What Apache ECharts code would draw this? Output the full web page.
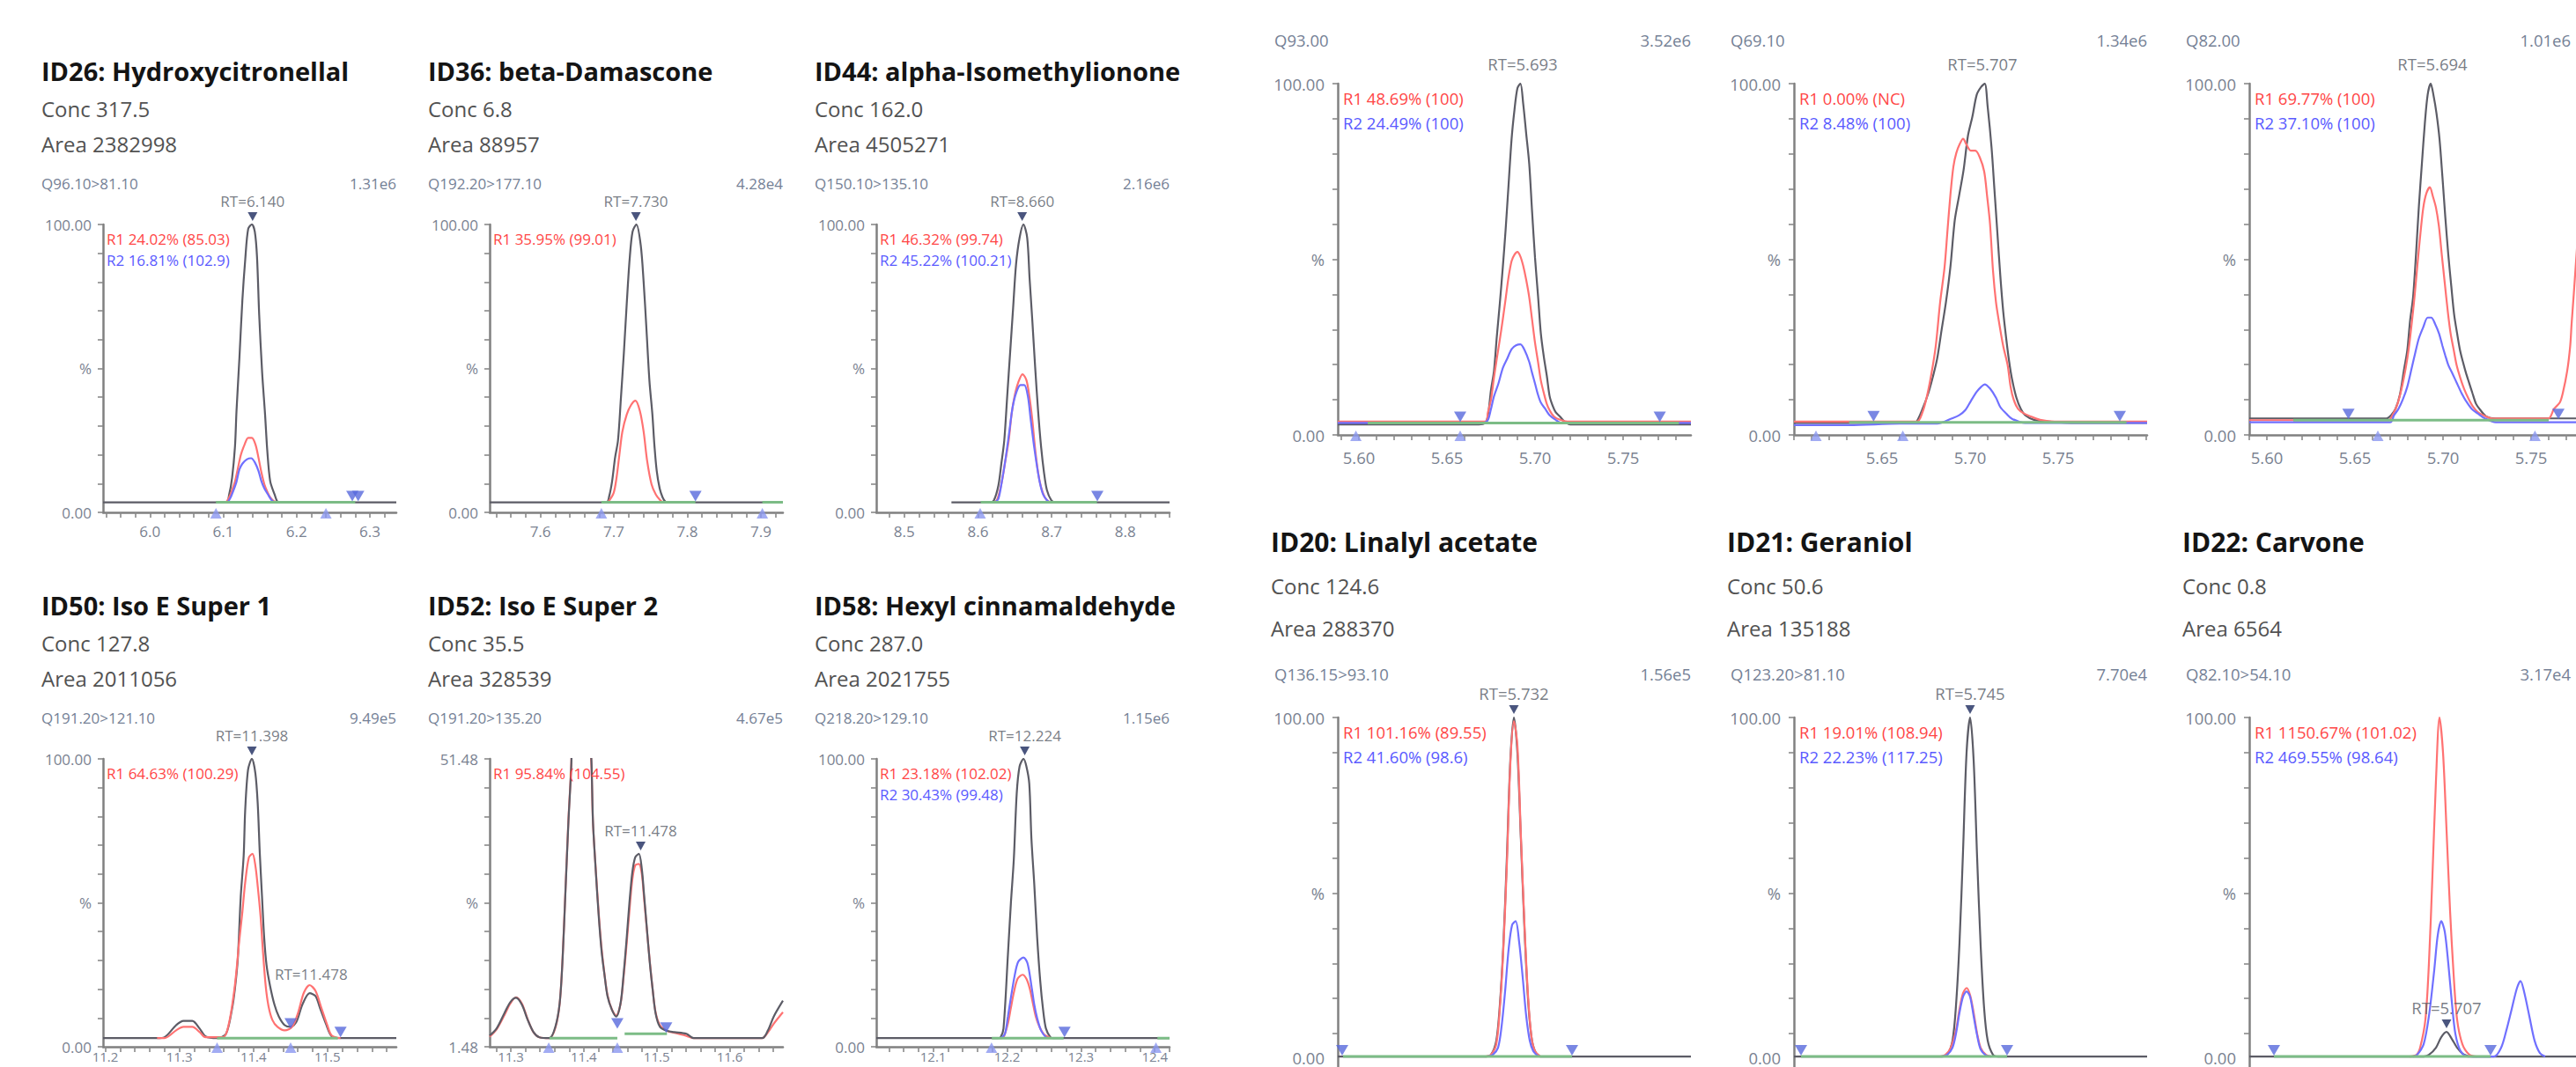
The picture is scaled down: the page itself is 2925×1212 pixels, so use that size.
<!DOCTYPE html>
<html><head><meta charset="utf-8">
<script src="https://cdn.jsdelivr.net/npm/echarts@6/dist/echarts.min.js"></script>
<style>html,body{margin:0;padding:0;background:#fff;overflow:hidden}#c{width:2925px;height:1212px}</style>
</head><body><div id="c"></div><script>
// ---------------- DATA ----------------
const panelTitles = ['ID26: Hydroxycitronellal','ID36: beta-Damascone','ID44: alpha-Isomethylionone','ID50: Iso E Super 1','ID52: Iso E Super 2','ID58: Hexyl cinnamaldehyde','','','','ID20: Linalyl acetate','ID21: Geraniol','ID22: Carvone'];
const concValues = ['317.5','6.8','162.0','127.8','35.5','287.0','','','','124.6','50.6','0.8'];
const areaValues = ['2382998','88957','4505271','2011056','328539','2021755','','','','288370','135188','6564'];
const channels = ['Q96.10>81.10','Q192.20>177.10','Q150.10>135.10','Q191.20>121.10','Q191.20>135.20','Q218.20>129.10','Q93.00','Q69.10','Q82.00','Q136.15>93.10','Q123.20>81.10','Q82.10>54.10'];
const intensities = ['1.31e6','4.28e4','2.16e6','9.49e5','4.67e5','1.15e6','3.52e6','1.34e6','1.01e6','1.56e5','7.70e4','3.17e4'];
const r1Text = ['R1 24.02% (85.03)','R1 35.95% (99.01)','R1 46.32% (99.74)','R1 64.63% (100.29)','R1 95.84% (104.55)','R1 23.18% (102.02)','R1 48.69% (100)','R1 0.00% (NC)','R1 69.77% (100)','R1 101.16% (89.55)','R1 19.01% (108.94)','R1 1150.67% (101.02)'];
const r2Text = ['R2 16.81% (102.9)','','R2 45.22% (100.21)','','','R2 30.43% (99.48)','R2 24.49% (100)','R2 8.48% (100)','R2 37.10% (100)','R2 41.60% (98.6)','R2 22.23% (117.25)','R2 469.55% (98.64)'];
const yTopLabels = ['100.00','100.00','100.00','100.00','51.48','100.00','100.00','100.00','100.00','100.00','100.00','100.00'];
const yBottomLabels = ['0.00','0.00','0.00','0.00','1.48','0.00','0.00','0.00','0.00','0.00','0.00','0.00'];
const xMin = [5.936,7.531,8.462,11.197,11.271,12.023,5.588,5.600,5.590,5.632,5.645,5.595];
const xMax = [6.336,7.930,8.860,11.593,11.673,12.420,5.7885,5.8005,5.7905,5.8325,5.8455,5.7955];
const xLabels = [[6.0,6.1,6.2,6.3],[7.6,7.7,7.8,7.9],[8.5,8.6,8.7,8.8],[11.2,11.3,11.4,11.5],[11.3,11.4,11.5,11.6],[12.1,12.2,12.3,12.4],[5.60,5.65,5.70,5.75],[5.65,5.70,5.75],[5.60,5.65,5.70,5.75],[5.65,5.70,5.75,5.80],[5.65,5.70,5.75,5.80],[5.60,5.65,5.70,5.75]];
const xLabelDecimals = [1,1,1,1,1,1,2,2,2,2,2,2];
const xMinorStep = [0.02,0.02,0.02,0.02,0.02,0.02,0.01,0.01,0.01,0.01,0.01,0.01];

// ID26
const id26Black = [[5.936,3.5],[6.104,3.5],[6.108,6.2],[6.112,12],[6.116,23],[6.118,35],[6.122,53.6],[6.126,73.5],[6.130,88],[6.134,98.5],[6.139,100],[6.143,97.5],[6.146,88.8],[6.149,68.5],[6.153,48.6],[6.157,34],[6.160,21.5],[6.164,10.8],[6.170,6.2],[6.174,3.7],[6.178,3.5],[6.336,3.5]];
const id26Red = [[6.104,3.5],[6.108,5.2],[6.112,7.7],[6.116,10.8],[6.120,15.4],[6.124,20],[6.129,23.5],[6.134,25.9],[6.139,25.9],[6.144,23.5],[6.148,19],[6.152,13.9],[6.156,9.8],[6.160,7.2],[6.164,5.2],[6.169,3.9],[6.174,3.5]];
const id26Blue = [[6.106,3.5],[6.110,5.2],[6.114,7.7],[6.118,10.6],[6.122,14.9],[6.126,16.9],[6.132,18.4],[6.138,18.8],[6.143,17.4],[6.148,14.4],[6.152,10.8],[6.156,8.3],[6.161,6.2],[6.166,4.2],[6.170,3.5]];
// ID36
const id36Black = [[7.531,3.5],[7.690,3.5],[7.6937,5.7],[7.6976,10.8],[7.7016,19],[7.7056,25],[7.7095,39.4],[7.7135,55],[7.7175,72.5],[7.7214,87.8],[7.7254,97.5],[7.7306,100],[7.7365,92.9],[7.7405,80],[7.7444,63.3],[7.7484,45.6],[7.7524,34],[7.7551,23.5],[7.7583,14.4],[7.7623,8.3],[7.7663,5.2],[7.7702,3.7],[7.775,3.5],[7.930,3.5]];
const id36Red = [[7.692,3.5],[7.6996,6.7],[7.7036,12],[7.7075,20],[7.7115,28],[7.7175,34],[7.7234,37.3],[7.7294,38.8],[7.7353,35.3],[7.7405,28],[7.7452,18],[7.7512,9.8],[7.7571,6.2],[7.7631,4.2],[7.767,3.5]];
// ID44
const id44Black = [[8.564,3.5],[8.617,3.5],[8.6217,4.2],[8.6277,9.3],[8.6317,16.9],[8.6357,25],[8.6397,40.4],[8.6437,55.7],[8.6477,71],[8.6517,86.2],[8.6565,95.4],[8.6617,100],[8.6668,95.4],[8.6701,81.1],[8.6737,66.9],[8.6776,50.5],[8.6816,35.3],[8.6856,23],[8.6896,13.9],[8.6936,7.7],[8.6996,4.2],[8.705,3.5],[8.860,3.5]];
const id44Red = [[8.621,3.5],[8.6257,4.2],[8.6317,9.8],[8.6365,16.9],[8.6417,25],[8.6457,34.3],[8.6497,40.4],[8.6545,45],[8.6605,48],[8.6657,46],[8.6697,40.4],[8.6737,32.2],[8.6776,22],[8.6816,13.9],[8.6856,8.8],[8.6907,5.2],[8.6955,3.9],[8.699,3.5]];
const id44Blue = [[8.623,3.5],[8.6277,4.7],[8.6325,10.8],[8.6377,19],[8.6425,28],[8.6469,36.3],[8.6517,41.4],[8.6577,44.2],[8.6629,44.2],[8.6677,40.4],[8.6716,32.2],[8.6756,24],[8.6796,16.9],[8.6836,10.8],[8.6884,6.2],[8.6936,4.2],[8.697,3.5]];
// ID50
const id50Black = [[11.197,3],[11.270,3],[11.280,3.3],[11.2957,7.5],[11.3056,9],[11.3175,9],[11.3275,6.3],[11.3353,3.6],[11.3512,3],[11.3631,4.5],[11.371,12.9],[11.375,20],[11.379,30.7],[11.3829,52],[11.3869,66.4],[11.3889,81.9],[11.3928,96.2],[11.398,100],[11.4027,95],[11.4059,84.3],[11.4086,67.6],[11.4118,51.5],[11.4146,37.9],[11.4178,28.3],[11.4225,21.2],[11.4285,14.6],[11.4344,10.5],[11.4423,7.5],[11.4503,6.9],[11.4582,8.7],[11.4661,14.6],[11.476,18.6],[11.4839,17.6],[11.4899,13.5],[11.4978,8.1],[11.5058,3.6],[11.5177,3],[11.593,3]];
const id50Red = [[11.270,3],[11.280,3],[11.2957,5.7],[11.3056,6.9],[11.3175,6.9],[11.3275,5.1],[11.3353,3.3],[11.3591,3.3],[11.367,8.1],[11.375,21.2],[11.3809,36.7],[11.3849,46.2],[11.3889,56.9],[11.394,65.8],[11.3988,67],[11.4027,62.9],[11.4059,55.7],[11.4098,45],[11.4126,34.3],[11.4166,21.2],[11.4205,14],[11.4257,9.3],[11.4325,6.9],[11.4423,5.7],[11.4523,6.9],[11.4602,11.7],[11.4682,18.8],[11.476,21.4],[11.4839,19.4],[11.4918,13.5],[11.4998,7.5],[11.5058,3.9],[11.5177,3]];
// ID52
const id52Black = [[11.271,3.9],[11.2804,6.3],[11.2913,11.7],[11.2993,15.5],[11.3072,17],[11.3152,14.6],[11.3232,9.3],[11.3311,5.1],[11.3391,3.3],[11.353,3],[11.361,6.9],[11.367,15.2],[11.371,30.7],[11.375,54.5],[11.379,78.3],[11.383,98.6],[11.388,150],[11.396,195],[11.404,140],[11.4106,98.6],[11.4126,78.3],[11.4166,60.5],[11.4206,45],[11.4245,33],[11.4285,24.8],[11.4325,17.6],[11.4385,12.9],[11.4445,10.5],[11.4505,15.2],[11.4545,24.8],[11.4585,36.7],[11.4625,49.8],[11.4665,60.5],[11.4705,65.8],[11.4756,67],[11.4796,61.7],[11.4825,53.3],[11.4864,41.4],[11.4904,29.5],[11.4944,20],[11.4984,11.7],[11.5044,6.9],[11.5144,5.5],[11.5243,5.1],[11.5407,4.5],[11.5507,3],[11.6445,3],[11.6525,5.7],[11.6604,10.5],[11.673,16]];
const id52Red = [[11.271,3.5],[11.2804,6],[11.2913,11],[11.2993,15],[11.3072,17.2],[11.3152,15],[11.3232,9.5],[11.3311,5],[11.3391,3.3],[11.353,3],[11.361,6.5],[11.367,15],[11.371,31],[11.375,55],[11.379,79],[11.383,99],[11.388,150],[11.396,190],[11.404,135],[11.4106,97],[11.4126,78],[11.4166,61],[11.4206,46],[11.4245,34],[11.4285,25],[11.4325,18],[11.4385,13],[11.4445,10.8],[11.4505,15],[11.4545,24],[11.4585,35],[11.4625,47],[11.4665,58],[11.4705,63],[11.4756,63.5],[11.4796,60],[11.4825,52],[11.4864,41],[11.4904,30],[11.4944,20],[11.4984,12],[11.5044,7.5],[11.5144,5.5],[11.5243,4.8],[11.5407,3.8],[11.5507,3],[11.6445,3],[11.6525,5],[11.6604,8],[11.673,12]];
// ID58
const id58Black = [[12.023,3],[12.188,3],[12.1913,3.3],[12.1952,6.3],[12.2012,32],[12.2052,49.8],[12.2092,65.2],[12.2131,87.9],[12.217,97.4],[12.2223,100],[12.2262,97.4],[12.2301,91.4],[12.233,72.4],[12.2369,56.3],[12.2408,37.9],[12.2449,23],[12.2488,12.9],[12.2527,6.3],[12.2587,3.3],[12.262,3],[12.420,3]];
const id58Red = [[12.190,3],[12.1952,3.3],[12.2012,8.1],[12.2052,13.5],[12.2092,18.8],[12.2143,23.6],[12.221,25],[12.2262,23.6],[12.231,20],[12.2349,15.2],[12.2389,10.5],[12.244,6.9],[12.25,4.3],[12.2567,3.3],[12.26,3]];
const id58Blue = [[12.192,3],[12.1972,4.5],[12.2012,10.5],[12.2052,17],[12.2104,24.8],[12.2151,29.5],[12.2223,31],[12.2278,28.9],[12.233,21.2],[12.2369,14.6],[12.2408,9.9],[12.246,5.7],[12.2527,3.3],[12.256,3]];
// Q93.00
const q93Black = [[5.588,3],[5.668,3],[5.6717,3.4],[5.6733,5.6],[5.675,12.8],[5.6767,18.2],[5.6783,28],[5.68,37.4],[5.6817,47.7],[5.6833,58.4],[5.685,71.4],[5.6867,84.3],[5.6883,92.4],[5.69,98.7],[5.6917,100],[5.6933,94.2],[5.695,85.7],[5.6967,77.2],[5.6983,63.8],[5.70,50.4],[5.7017,39.6],[5.7033,28.9],[5.705,22.2],[5.7067,16.8],[5.7083,11],[5.71,8.3],[5.7117,6.5],[5.7142,5.2],[5.7167,3.8],[5.72,3],[5.7885,3]];
const q93Red = [[5.588,3.8],[5.6717,3.8],[5.6733,6.5],[5.675,10.1],[5.6767,16.4],[5.6783,21.7],[5.68,27.1],[5.6817,32.9],[5.6833,38.7],[5.685,45],[5.6867,49.5],[5.6883,51.3],[5.69,52.1],[5.6917,50.8],[5.6933,48.1],[5.695,44.1],[5.6967,39.2],[5.6983,32.9],[5.70,26.2],[5.7017,20.8],[5.7033,15.5],[5.705,11.9],[5.7067,8.8],[5.7083,7],[5.7108,5.2],[5.7142,4.3],[5.7183,3.8],[5.7885,3.8]];
const q93Blue = [[5.588,3.4],[5.671,3.4],[5.6733,4.3],[5.675,7.4],[5.6767,11],[5.6792,14.6],[5.6817,19],[5.6842,21.7],[5.6867,24.4],[5.6892,25.5],[5.6917,25.8],[5.6942,24],[5.6967,20.8],[5.6983,17.7],[5.70,14.6],[5.7017,11.4],[5.7033,9.2],[5.7058,7.4],[5.7083,5.6],[5.7117,4.3],[5.715,3.4],[5.7885,3.4]];
// Q69.10
const q69Black = [[5.60,3.4],[5.668,3.4],[5.6697,3.8],[5.673,7.4],[5.6763,11.9],[5.6788,16.4],[5.6813,21.7],[5.6838,29.8],[5.6863,37.8],[5.6888,47.7],[5.6913,61.1],[5.6938,68.2],[5.6963,75.4],[5.6988,85.2],[5.7013,90.6],[5.7038,96.9],[5.7063,99.1],[5.7083,100],[5.71,93.3],[5.7122,81.7],[5.7138,70],[5.7155,57.5],[5.7172,45],[5.7188,35.2],[5.7205,27.5],[5.7222,20.8],[5.7238,15.9],[5.7263,10.6],[5.7288,7.4],[5.7313,5.6],[5.7363,4.3],[5.7447,3.8],[5.76,3.4],[5.8005,3.4]];
const q69Red = [[5.60,3.8],[5.6697,3.8],[5.673,6.5],[5.6755,11],[5.678,17.3],[5.6805,25.3],[5.683,37.8],[5.6855,47.7],[5.6872,58.4],[5.6888,68.2],[5.6905,76.3],[5.6922,80.3],[5.6943,83],[5.696,84.3],[5.698,82.6],[5.7005,80.9],[5.703,80.9],[5.7055,79],[5.708,75],[5.7097,67.8],[5.7113,60.2],[5.713,46.8],[5.7147,37.8],[5.7163,32.5],[5.7188,25.3],[5.7213,19.9],[5.723,13.7],[5.7247,10.1],[5.7272,7.4],[5.7305,6.1],[5.7347,5.2],[5.7397,4.3],[5.748,3.8],[5.8005,3.8]];
const q69Blue = [[5.60,2.8],[5.6313,2.8],[5.66,3.2],[5.6813,3.2],[5.6897,4.7],[5.6938,5.6],[5.6972,7],[5.7005,9.7],[5.7038,12.3],[5.7063,13.7],[5.7083,14.4],[5.7113,13.2],[5.7147,10.6],[5.7172,7.9],[5.7205,6.1],[5.7238,4.6],[5.7313,3.4],[5.8005,3.4]];
// Q82.00
const q82Black = [[5.59,4.7],[5.668,4.7],[5.6705,5.6],[5.673,7.4],[5.6755,11.4],[5.678,19],[5.6797,24],[5.6813,32.5],[5.683,39.2],[5.6847,51.7],[5.6863,65.1],[5.688,77.2],[5.6897,88.8],[5.6913,96.9],[5.693,100],[5.6947,96.4],[5.6963,91.5],[5.698,84.3],[5.6997,73.2],[5.7013,62],[5.703,51.3],[5.7047,42.3],[5.7063,34.3],[5.708,28.9],[5.7097,24],[5.7113,20.8],[5.713,17.7],[5.7147,15],[5.7167,11.9],[5.7188,8.8],[5.7213,7],[5.7247,5.2],[5.7297,4.7],[5.7905,4.7]];
const q82Red = [[5.59,4.2],[5.669,4.2],[5.6713,5.6],[5.6738,8.3],[5.6763,12.8],[5.6788,19],[5.6805,24.4],[5.6822,31.6],[5.6838,39.2],[5.6855,48.6],[5.6872,57.5],[5.6888,64.7],[5.6905,68.7],[5.6925,70.5],[5.6943,67.8],[5.696,64.7],[5.6977,59.3],[5.6993,51.3],[5.701,43.2],[5.7027,35.2],[5.7043,28.9],[5.706,24.4],[5.7077,19.9],[5.7097,16.4],[5.7122,12.8],[5.7147,10.1],[5.7172,7.9],[5.7197,6.5],[5.723,5.6],[5.728,4.7],[5.7597,4.7],[5.763,7.4],[5.7663,9.2],[5.768,11.9],[5.7705,18.2],[5.7722,25.3],[5.773,31.6],[5.7743,40.5],[5.7763,55],[5.7783,68],[5.7805,78]];
const q82Blue = [[5.59,3.6],[5.67,3.6],[5.6722,5.6],[5.6747,7.4],[5.6772,10.1],[5.6797,13.7],[5.6822,19],[5.6843,23.5],[5.6863,27.5],[5.6888,30.7],[5.6913,33.4],[5.6933,33.4],[5.6955,31.6],[5.6977,28.9],[5.6997,25.3],[5.7013,22.6],[5.703,19.9],[5.7055,17.3],[5.708,14.6],[5.7105,11.9],[5.713,9.7],[5.7163,7.4],[5.7197,6.1],[5.7238,4.7],[5.73,3.6],[5.7905,3.6]];
// ID20
const id20Black = [[5.632,3.5],[5.716,3.5],[5.719,4],[5.722,8],[5.724,18],[5.726,35],[5.728,60],[5.730,88],[5.732,100],[5.734,90],[5.736,65],[5.738,40],[5.740,20],[5.742,9],[5.744,5],[5.747,3.5],[5.8325,3.5]];
const id20Red = [[5.716,3.5],[5.719,4],[5.722,7],[5.724,17],[5.726,34],[5.728,58],[5.730,87],[5.732,99],[5.734,92],[5.736,66],[5.738,41],[5.740,21],[5.742,9],[5.744,5],[5.747,3.5]];
const id20Blue = [[5.717,3.5],[5.720,4],[5.723,6],[5.725,12],[5.727,22],[5.729,34],[5.731,41],[5.733,42],[5.735,36],[5.737,26],[5.739,15],[5.741,8],[5.743,5],[5.746,3.5]];
// ID21
const id21Black = [[5.645,3.5],[5.729,3.5],[5.732,4],[5.735,8],[5.737,18],[5.739,36],[5.741,62],[5.743,90],[5.745,100],[5.747,88],[5.749,60],[5.751,35],[5.753,17],[5.755,8],[5.758,4],[5.761,3.5],[5.8455,3.5]];
const id21Red = [[5.728,3.5],[5.731,4],[5.734,6],[5.737,11],[5.739,17],[5.741,21.5],[5.743,23],[5.745,21],[5.747,16],[5.749,10],[5.751,6],[5.754,4],[5.757,3.5]];
const id21Blue = [[5.729,3.5],[5.732,4],[5.735,6],[5.737,10],[5.739,16],[5.741,20.5],[5.743,22],[5.745,20.5],[5.747,15],[5.749,9.5],[5.751,5.5],[5.754,3.8],[5.757,3.5]];
// ID22
const id22Black = [[5.595,3.5],[5.694,3.5],[5.697,4],[5.701,6],[5.704,9],[5.707,10.5],[5.710,8.5],[5.713,6],[5.717,4],[5.722,3.5],[5.7955,3.5]];
const id22Red = [[5.686,3.5],[5.690,4],[5.692,6],[5.695,14],[5.697,30],[5.699,55],[5.701,82],[5.703,100],[5.705,90],[5.707,68],[5.709,45],[5.711,27],[5.713,14],[5.716,7],[5.720,4],[5.724,3.5]];
const id22Blue = [[5.688,3.5],[5.690,3.8],[5.694,7],[5.697,15],[5.700,28],[5.702,38],[5.704,42],[5.706,39],[5.708,30],[5.710,19],[5.712,10],[5.715,5],[5.719,3.5],[5.734,3.5],[5.738,6],[5.741,11],[5.744,17],[5.747,23],[5.749,25],[5.751,22],[5.754,15],[5.757,8],[5.760,4.5],[5.763,3.5]];

const blackTraces = [id26Black,id36Black,id44Black,id50Black,id52Black,id58Black,q93Black,q69Black,q82Black,id20Black,id21Black,id22Black];
const redTraces = [id26Red,id36Red,id44Red,id50Red,id52Red,id58Red,q93Red,q69Red,q82Red,id20Red,id21Red,id22Red];
const blueTraces = [id26Blue,null,id44Blue,null,null,id58Blue,q93Blue,q69Blue,q82Blue,id20Blue,id21Blue,id22Blue];
// integration baselines [start, end, level]
const greenSegs = [[[6.090,6.280,3.5]],[[7.683,7.811,3.5],[7.902,7.930,3.5]],[[8.6037,8.7615,3.5]],[[11.351,11.514,3]],[[11.353,11.446,3],[11.456,11.514,4.5]],[[12.1794,12.2766,3],[12.4036,12.420,3]],[[5.605,5.7817,3.4]],[[5.6313,5.7888,3.6]],[[5.615,5.760,4.2]],[[5.635,5.765,3.5]],[[5.649,5.766,3.5]],[[5.609,5.732,3.5]]];
const downMarks = [[[6.276,3.5],[6.284,3.5]],[[7.811,3.5]],[[8.762,3.5]],[[11.4503,6],[11.5177,3]],[[11.446,6],[11.513,4.5]],[[12.2778,3]],[[5.6575,3.4],[5.7708,3.4]],[[5.6452,3.6],[5.785,3.6]],[[5.6463,4.2],[5.7655,4.2]],[[5.6345,3.5],[5.765,3.5]],[[5.649,3.5],[5.766,3.5]],[[5.609,3.5],[5.732,3.5]]];
const upMarks = [[6.090,6.240],[7.683,7.902],[8.603],[11.351,11.4503],[11.352,11.446],[12.179,12.4016],[5.5983,5.6575],[5.6125,5.6618],[5.663,5.7522],[],[],[]];
// RT annotations [x, y, text, marker]
const rtMarks = [[[6.140,100,'RT=6.140',1]],[[7.730,100,'RT=7.730',1]],[[8.660,100,'RT=8.660',1]],[[11.398,100,'RT=11.398',1],[11.478,18.6,'RT=11.478',0]],[[11.478,67,'RT=11.478',1]],[[12.224,100,'RT=12.224',1]],[[5.693,100,'RT=5.693',0]],[[5.707,100,'RT=5.707',0]],[[5.694,100,'RT=5.694',0]],[[5.732,100,'RT=5.732',1]],[[5.745,100,'RT=5.745',1]],[[5.707,10.5,'RT=5.707',1]]];

// ---------------- LAYOUT ----------------
const panelSide = ['L','L','L','L','L','L','R','R','R','R','R','R'];
const gridLeft = [117,556,995,117,556,995,1519,2037,2554,1519,2037,2554];
const gridTop = [255,255,255,862,862,862,95,95,95,815,815,815];
const gridWidth = [333,333,333,333,333,333,401,401,401,401,401,401];
const gridHeight = [327,327,327,327,327,327,399,399,399,399,399,399];
const blackOnTop = [0,0,0,0,1,0,0,0,0,0,0,0];
const CANVAS_W = 2925, CANVAS_H = 1212;

const FONT = '"Open Sans","Noto Sans",sans-serif';
const C_AXIS = '#808080', C_BLACK = '#5c5c66', C_RED = '#ff7272', C_BLUE = '#7070ff', C_GREEN = '#7cbc86';
const DOWN = 'path://M0,0L12,0L6,10Z', UP = 'path://M6,0L12,10L0,10Z';

function minorTicks(a, b, step) {
  const out = []; const s = Math.ceil(a / step - 1e-6);
  for (let k = s; k * step <= b + 1e-9; k++) out.push(+(k * step).toFixed(4));
  return out;
}
function txt(x, y, s, size, color, weight, align) {
  return { type: 'text', x, y, silent: true, z: 100,
    style: { text: s, fontSize: size, fontFamily: FONT, fontWeight: weight || 'normal', fill: color,
      align: align || 'left', verticalAlign: 'middle', textAlign: align || 'left', textVerticalAlign: 'middle' } };
}

const grids = [], xAxes = [], yAxes = [], series = [], graphics = [];
for (let i = 0; i < 12; i++) {
  const L = panelSide[i] === 'L';
  const sm = L ? 17 : 18.5;
  const bottomPx = gridTop[i] + gridHeight[i];
  const nearEdge = bottomPx > CANVAS_H - 30;
  const zeroCut = bottomPx > CANVAS_H - 10;
  grids.push({ left: gridLeft[i], top: gridTop[i], width: gridWidth[i], height: gridHeight[i], containLabel: false, outerBoundsMode: 'none' });
  xAxes.push({ gridIndex: i, type: 'value', min: xMin[i], max: xMax[i],
    axisLine: { show: true, onZero: false, lineStyle: { color: C_AXIS, width: 2.5 } },
    axisTick: { show: true, length: 6, customValues: minorTicks(xMin[i], xMax[i], xMinorStep[i]), lineStyle: { color: '#8a8a8a', width: 1.6 } },
    axisLabel: { show: !zeroCut, customValues: xLabels[i], margin: nearEdge ? 3 : (L ? 13 : 16), fontSize: nearEdge ? 15 : sm, fontFamily: FONT, color: '#7a8291',
      formatter: v => (+v).toFixed(xLabelDecimals[i]) },
    splitLine: { show: false } });
  const yt = yTopLabels[i], yb = yBottomLabels[i];
  yAxes.push({ gridIndex: i, type: 'value', min: 0, max: 100, interval: 10,
    axisLine: { show: true, onZero: false, lineStyle: { color: C_AXIS, width: 2.5 } },
    axisTick: { show: true, length: 6, lineStyle: { color: '#8a8a8a', width: 1.6 } },
    axisLabel: { show: true, margin: L ? 13 : 15, fontSize: sm, fontFamily: FONT, color: '#7a8291', showMinLabel: true, showMaxLabel: true,
      formatter: v => v === 100 ? yt : (v === 50 ? '%' : (v === 0 ? (zeroCut ? '{z|' + yb + '}' : yb) : '')),
      rich: { z: { fontSize: sm, fontFamily: FONT, color: '#7a8291', padding: [0, 0, 26, 0] } } },
    splitLine: { show: false } });

  const base = { xAxisIndex: i, yAxisIndex: i, silent: true, animation: false };
  series.push(Object.assign({ type: 'line', data: blackTraces[i], symbol: 'none', smooth: 0.3, clip: true, lineStyle: { color: C_BLACK, width: 2.2 }, z: blackOnTop[i] ? 5 : 3 }, base));
  series.push(Object.assign({ type: 'line', data: redTraces[i], symbol: 'none', smooth: 0.3, clip: true, lineStyle: { color: C_RED, width: 2.2 }, z: 4 }, base));
  if (blueTraces[i]) series.push(Object.assign({ type: 'line', data: blueTraces[i], symbol: 'none', smooth: 0.3, clip: true, lineStyle: { color: C_BLUE, width: 2.2 }, z: 5 }, base));
  greenSegs[i].forEach(g => series.push(Object.assign({ type: 'line', data: [[g[0], g[2]], [g[1], g[2]]], symbol: 'none', clip: true, lineStyle: { color: C_GREEN, width: 3 }, z: 6 }, base)));
  series.push(Object.assign({ type: 'scatter', data: downMarks[i], symbol: DOWN, symbolSize: [14, 12], symbolOffset: [0, -7], clip: false, itemStyle: { color: '#5869dc' }, z: 8 }, base));
  series.push(Object.assign({ type: 'scatter', data: upMarks[i].map(x => [x, 0]), symbol: UP, symbolSize: [13, 12], symbolOffset: [0, 1], clip: false, itemStyle: { color: '#8b97f0' }, z: 8 }, base));
  series.push(Object.assign({ type: 'scatter', clip: false, z: 9,
    data: rtMarks[i].map(r => ({ value: [r[0], r[1]], name: r[2], symbolSize: r[3] ? [11, 10] : [0.1, 0.1] })),
    symbol: DOWN, symbolOffset: [0, -9], itemStyle: { color: '#1d2b5e' },
    label: { show: true, position: 'top', distance: 4, formatter: p => p.name, fontSize: sm, fontFamily: FONT, color: '#555b66' } }, base));

  // texts
  const gl = gridLeft[i], gt = gridTop[i], gr = Math.min(gl + gridWidth[i], CANVAS_W - 6);
  if (panelTitles[i]) {
    const tx = L ? gl - 70 : gl - 76;
    graphics.push(txt(tx, L ? gt - 175 : gt - 200, panelTitles[i], L ? 29 : 30, '#141414', 'bold'));
    graphics.push(txt(tx, L ? gt - 132 : gt - 150, 'Conc ' + concValues[i], 24, '#525252'));
    graphics.push(txt(tx, L ? gt - 92 : gt - 102, 'Area ' + areaValues[i], 24, '#525252'));
  }
  graphics.push(txt(L ? gl - 70 : gl - 72, L ? gt - 47 : gt - 50, channels[i], sm, '#758196'));
  graphics.push(txt(gr, L ? gt - 47 : gt - 50, intensities[i], sm, '#758196', 'normal', 'right'));
  graphics.push(txt(gl + (L ? 4 : 6), gt + 16, r1Text[i], sm, '#ff4646'));
  if (r2Text[i]) graphics.push(txt(gl + (L ? 4 : 6), gt + (L ? 40 : 44), r2Text[i], sm, '#5a5aff'));
}

const chart = echarts.init(document.getElementById('c'), null, { renderer: 'svg', width: 2925, height: 1212 });
chart.setOption({ backgroundColor: '#ffffff', animation: false, grid: grids, xAxis: xAxes, yAxis: yAxes, series: series, graphic: graphics });
</script></body></html>
